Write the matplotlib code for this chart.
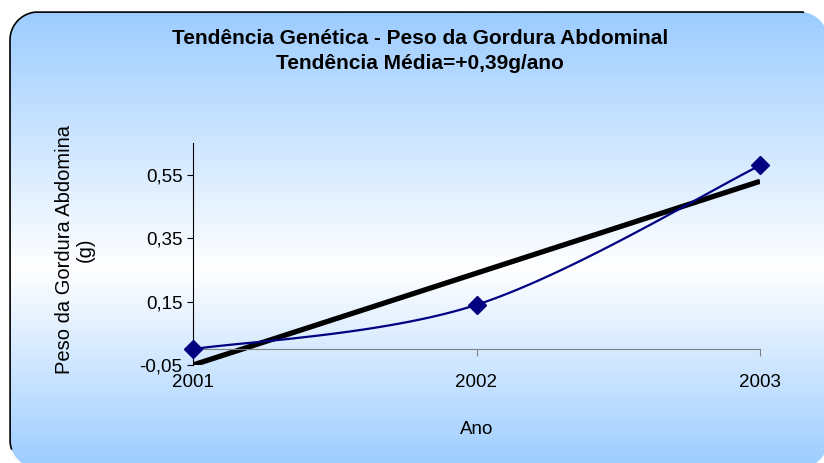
import numpy as np
import matplotlib
matplotlib.use('Agg')
import matplotlib.pyplot as plt
from matplotlib.path import Path

plt.rcParams['font.family'] = ['Liberation Sans', 'DejaVu Sans']

# Dados
anos = [2001, 2002, 2003]
peso = [0.00, 0.14, 0.58]
y_ticks = [-0.05, 0.15, 0.35, 0.55]
y_labels = ['-0,05', '0,15', '0,35', '0,55']
titulo = 'Tendência Genética - Peso da Gordura Abdominal\nTendência Média=+0,39g/ano'
y_titulo = 'Peso da Gordura Abdomina\n(g)'
x_titulo = 'Ano'

W, H = 824, 463
fig = plt.figure(figsize=(W / 100, H / 100), dpi=100)

# Fundo com gradiente (estilo Excel) e moldura arredondada, em fração da figura
bg = fig.add_axes([0, 0, 1, 1], zorder=0)
bg.axis('off')
x0, x1 = 10 / W, 828 / W
top, bot = 1 - 12 / H, 1 - 468 / H
rx, ry = 28 / W, 28 / H
azul = np.array([0.61, 0.80, 1.0])
branco = np.array([1.0, 1.0, 1.0])
linhas = np.arange(H)
f = np.interp(linhas, [12, 268, 468], [1, 0, 1])
cor = azul[None, :] * f[:, None] + branco[None, :] * (1 - f[:, None])
grad = cor[:, None, :]

cantos = [(x1 - rx, top - ry, 0), (x0 + rx, top - ry, 90), (x0 + rx, bot + ry, 180), (x1 - rx, bot + ry, 270)]
pts = []
for cx, cy, a0 in cantos:
    ang = np.radians(np.linspace(a0, a0 + 90, 200))
    pts.extend(zip(cx + rx * np.cos(ang), cy + ry * np.sin(ang)))
pts.append(pts[0])
pts = np.array(pts)

im = bg.imshow(grad, extent=(0, 1, 0, 1), aspect='auto', origin='upper', transform=fig.transFigure)
im.set_clip_path(Path(pts), fig.transFigure)

# só o lado de cima e o da esquerda do contorno ficam dentro da figura
borda = pts.copy()
fora = (borda[:, 0] > 0.975) | (borda[:, 1] < 0.03)
borda[fora] = np.nan
bg.plot(borda[:, 0], borda[:, 1], transform=fig.transFigure, color='black', lw=1.2, clip_on=False)

# Área do gráfico
ax = fig.add_axes([193 / W, 1 - 365 / H, (760 - 193) / W, (365 - 143.3) / H], zorder=3)
ax.patch.set_alpha(0)


# Linha suavizada (Bezier como no Excel)
def suavizar(xs, ys, n=60):
    p = np.column_stack([xs, ys]).astype(float)
    ext = np.vstack([p[0], p, p[-1]])
    out = []
    for i in range(len(p) - 1):
        a, b = ext[i + 1], ext[i + 2]
        c1 = a + (ext[i + 2] - ext[i]) / 6
        c2 = b - (ext[i + 3] - ext[i + 1]) / 6
        t = np.linspace(0, 1, n)[:, None]
        out.append((1 - t) ** 3 * a + 3 * (1 - t) ** 2 * t * c1 + 3 * (1 - t) * t ** 2 * c2 + t ** 3 * b)
    return np.vstack(out)


curva = suavizar(anos, peso)
ax.plot(curva[:, 0], curva[:, 1], color='#000080', lw=1.6, zorder=3)
ax.plot(anos, peso, ls='none', marker='D', ms=9, color='#000080', zorder=4, clip_on=False)

# Linha de tendência linear
coef = np.polyfit(anos, peso, 1)
xt = np.array([anos[0], anos[-1]])
ax.plot(xt, np.polyval(coef, xt), color='black', lw=3.8, zorder=2, solid_capstyle='butt')

ax.set_xlim(2001, 2003)
ax.set_ylim(-0.05, 0.65)
ax.set_yticks(y_ticks)
ax.set_yticklabels(y_labels)
ax.set_xticks(anos)
ax.set_xticklabels([str(a) for a in anos])

ax.spines['top'].set_visible(False)
ax.spines['right'].set_visible(False)
ax.spines['left'].set_color('black')
ax.spines['bottom'].set_position(('data', 0))
ax.spines['bottom'].set_color('#808080')
ax.tick_params(axis='y', direction='out', length=4.5, width=0.8, labelsize=13.5, pad=3)
ax.tick_params(axis='x', direction='out', length=5, width=0.8, color='#808080', labelsize=13.5, pad=13)

fig.text(420 / W, 1 - 51 / H, titulo, ha='center', va='center', fontsize=15, fontweight='bold',
         linespacing=1.38, zorder=4)
fig.text(75 / W, 1 - 250 / H, y_titulo, ha='center', va='center', rotation=90, fontsize=14.5,
         linespacing=1.1, multialignment='center', zorder=4)
fig.text(477 / W, 1 - 429 / H, x_titulo, ha='center', va='center', fontsize=13.5, zorder=4)

fig.savefig('out.png', dpi=100)
